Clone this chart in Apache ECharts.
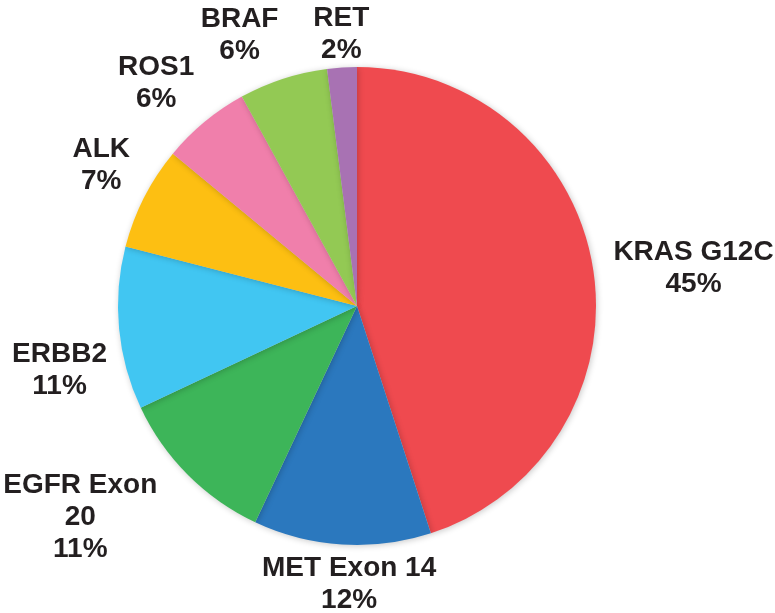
<!DOCTYPE html>
<html>
<head>
<meta charset="utf-8">
<script src="https://cdn.jsdelivr.net/npm/echarts@6/dist/echarts.min.js"></script>
<style>
	html, body { margin: 0; padding: 0; background: #fff; }
	#chart { width: 775px; height: 613px; }
</style>
</head>
<body>
<div id="chart"></div>
<script>
	// 数据
	var names = ['KRAS G12C', 'MET Exon 14', 'EGFR Exon\n20', 'ERBB2', 'ALK', 'ROS1', 'BRAF', 'RET']
	var values = [45, 12, 11, 11, 7, 6, 6, 2]
	var colors = ['#ef4a4f', '#2b78be', '#3db559', '#41c6f2', '#fdbf12', '#f07fab', '#93c954', '#a872b3']

	var cx = 357
	var cy = 306
	var R = 239
	// 标签微调（像素）
	var labelNudge = [[0, 16], [10, -6], [-32, -33], [7, 36], [12, -4], [-4, 15], [-26, 11], [2, 9]]

	var total = values.reduce(function (a, b) { return a + b }, 0)
	// 每块的中间角（从12点顺时针）
	var midAngles = []
	var acc = 0
	values.forEach(function (v) {
		midAngles.push((acc + v / 2) / total * Math.PI * 2)
		acc += v
	})

	var data = names.map(function (n, i) {
		return { name: n, value: values[i], itemStyle: { color: colors[i] } }
	})

	var chart = echarts.init(document.getElementById('chart'))
	chart.setOption({
		animation: false,
		series: [{
			type: 'pie',
			center: [cx, cy],
			radius: R,
			startAngle: 90,
			clockwise: true,
			data: data,
			itemStyle: {
				borderWidth: 0,
				shadowBlur: 6,
				shadowColor: 'rgba(0,0,0,0.22)',
				shadowOffsetX: 1,
				shadowOffsetY: 1
			},
			label: {
				show: true,
				position: 'outside',
				formatter: function (p) {
					return p.name + '\n' + p.value + '%'
				},
				color: '#231f20',
				fontFamily: 'Liberation Sans, Arial, sans-serif',
				fontWeight: 'bold',
				fontSize: 28,
				lineHeight: 32,
				align: 'center',
				overflow: 'none',
				width: null
			},
			labelLine: { show: false },
			emphasis: { disabled: true },
			labelLayout: function (params) {
				// 标签放在扇区外侧，文字框中心沿中线方向
				var i = params.dataIndex
				var a = midAngles[i]
				var ux = Math.sin(a)
				var uy = -Math.cos(a)
				var w = params.labelRect.width / 2
				var h = params.labelRect.height / 2 * 0.74
				var gap = 15 + 25 * Math.abs(ux * uy)
				var d = R + gap + Math.abs(ux) * w + Math.abs(uy) * h
				return {
					x: cx + ux * d + labelNudge[i][0],
					y: cy + uy * d + labelNudge[i][1],
					align: 'center',
					verticalAlign: 'middle'
				}
			}
		}]
	})
</script>
</body>
</html>
